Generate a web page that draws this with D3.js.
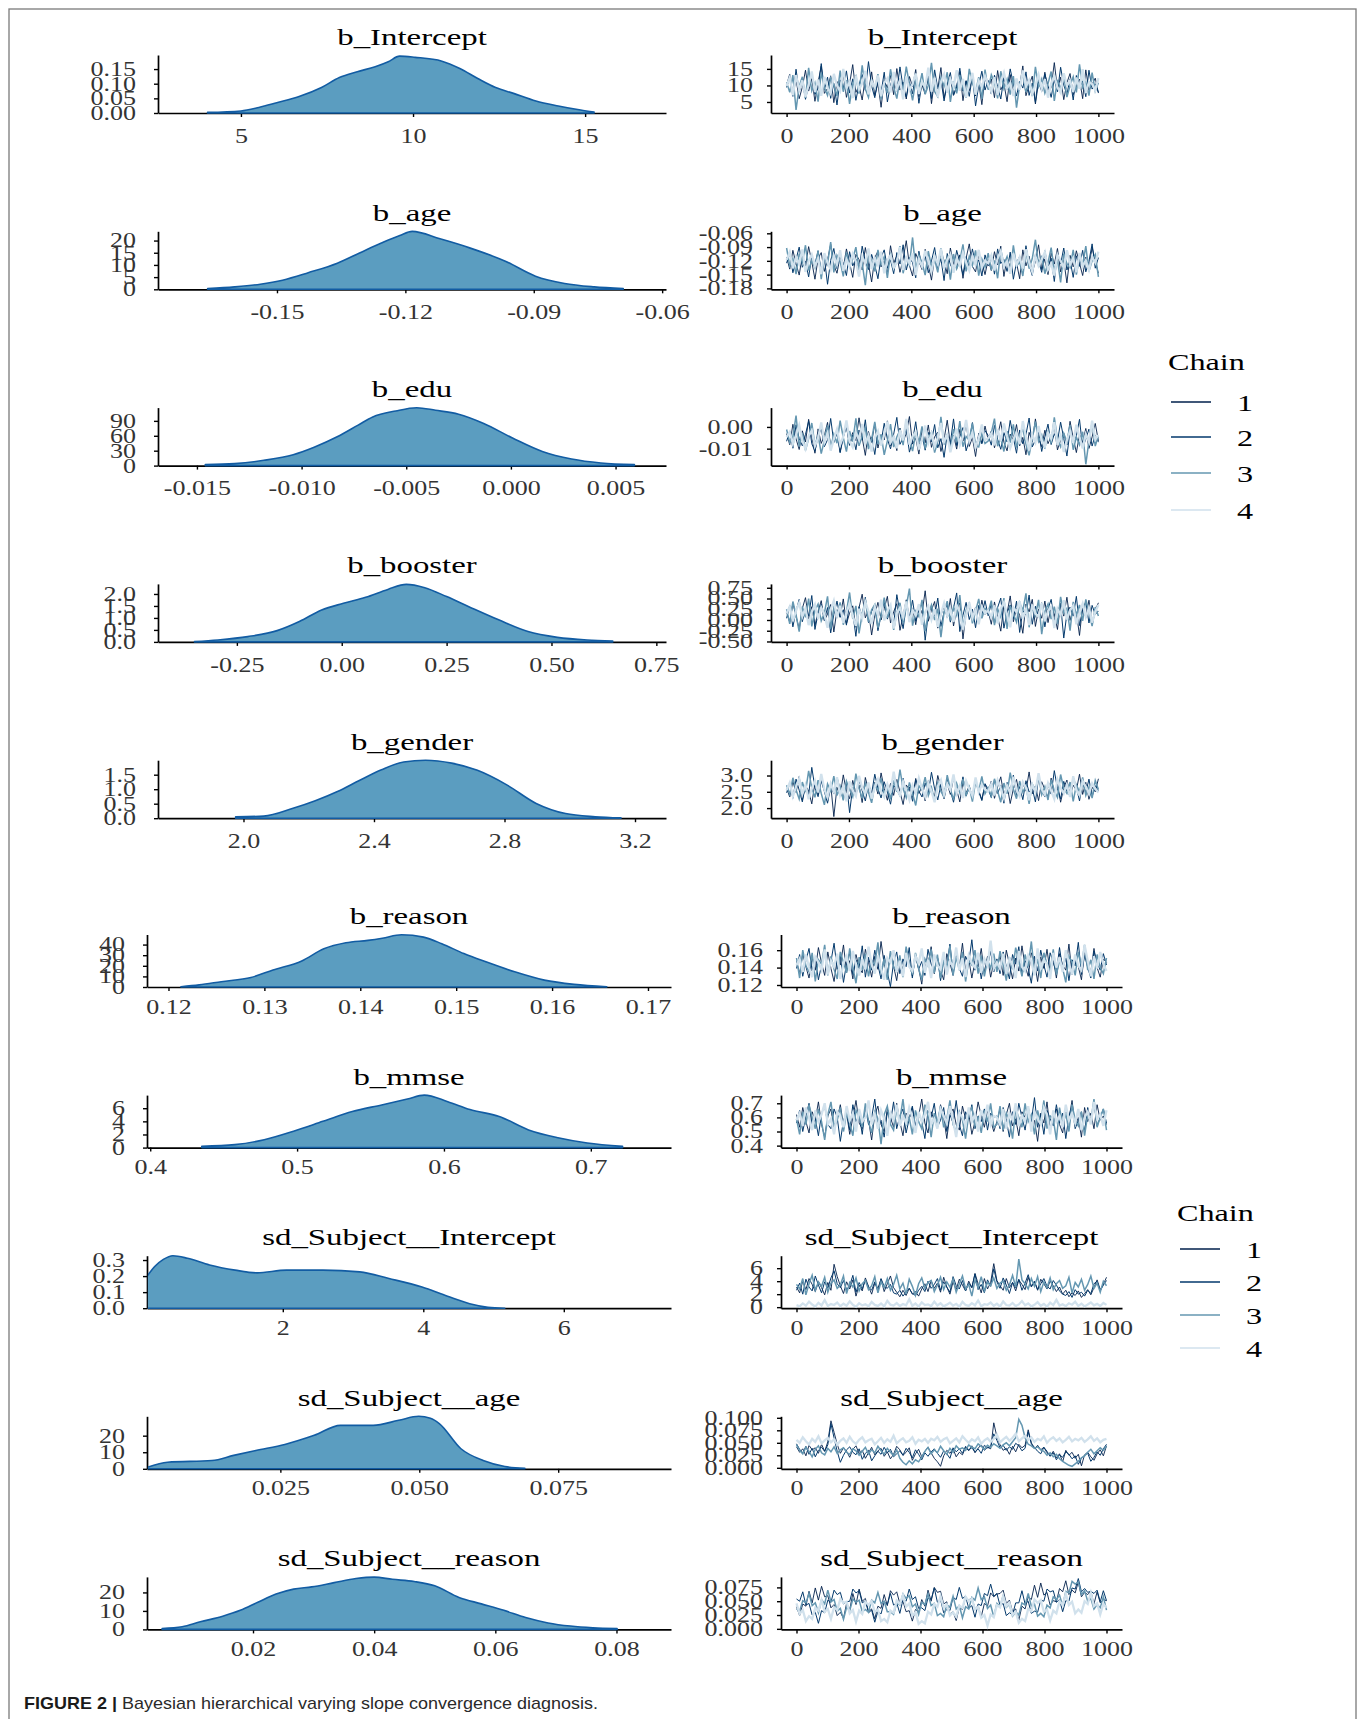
<!DOCTYPE html>
<html>
<head>
<meta charset="utf-8">
<script src="https://cdn.jsdelivr.net/npm/d3@7"></script>
<style>
html,body{margin:0;padding:0;background:#fff;}
svg{display:block;}
</style>
</head>
<body>
<svg id="fig" width="1363" height="1719"></svg>
<script>
// ---------- parameters ----------
const parameters = ["b_Intercept","b_age","b_edu","b_booster","b_gender",
  "b_reason","b_mmse","sd_Subject__Intercept","sd_Subject__age","sd_Subject__reason"];
const chains = ["1","2","3","4"];

// ---------- posterior densities: [value, density] ----------
const densIntercept = [[4.03,0.002],[5.0,0.007],[5.52,0.019],[6.04,0.035],[6.69,0.056],[7.34,0.087],[7.86,0.121],[8.38,0.141],[8.90,0.158],[9.28,0.175],[9.61,0.194],[10.06,0.19],[10.84,0.177],[11.36,0.152],[11.88,0.118],[12.40,0.087],[12.92,0.067],[13.57,0.041],[14.22,0.024],[14.87,0.010],[15.26,0.003]];
const densAge = [[-0.1662,0.3],[-0.1599,1],[-0.1539,2.1],[-0.1487,3.75],[-0.1427,6.8],[-0.1359,10.7],[-0.1307,14.9],[-0.1256,19],[-0.1213,22.1],[-0.1184,23.75],[-0.1119,20.7],[-0.1050,17],[-0.0965,11.4],[-0.0896,5.4],[-0.0828,2.4],[-0.0759,1],[-0.0691,0.3]];
const densEdu = [[-0.0146,2],[-0.0132,4],[-0.0118,10.6],[-0.0104,21.9],[-0.0094,37],[-0.0083,58],[-0.0073,81.5],[-0.0066,98],[-0.0055,110],[-0.0045,116.5],[-0.0036,111.3],[-0.0025,103.4],[-0.0013,84.8],[0.0001,55],[0.0015,28.5],[0.0029,13.3],[0.0043,5.3],[0.0059,2]];
const densBooster = [[-0.351,0.01],[-0.295,0.08],[-0.224,0.22],[-0.154,0.47],[-0.101,0.85],[-0.048,1.33],[0.004,1.61],[0.057,1.86],[0.110,2.19],[0.154,2.40],[0.198,2.26],[0.250,1.89],[0.303,1.47],[0.374,0.92],[0.444,0.43],[0.514,0.19],[0.585,0.08],[0.646,0.04]];
const densGender = [[1.976,0.05],[2.062,0.07],[2.152,0.34],[2.220,0.6],[2.288,0.92],[2.355,1.3],[2.423,1.67],[2.491,1.94],[2.558,2.0],[2.638,1.9],[2.717,1.65],[2.807,1.15],[2.897,0.51],[2.987,0.16],[3.078,0.05],[3.157,0.01]];
const densReason = [[0.1213,0.3],[0.1232,2],[0.1255,5],[0.1286,9],[0.1309,16],[0.1339,24.6],[0.1362,36],[0.1385,41.7],[0.1408,44],[0.1423,46],[0.1443,49.2],[0.1466,47],[0.1485,40.8],[0.1508,31.5],[0.1531,23.7],[0.1561,14.3],[0.1592,6.5],[0.1623,2.5],[0.1657,0.3]];
const densMmse = [[0.4351,0.2],[0.4576,0.45],[0.4776,1.2],[0.4976,2.5],[0.5176,4.0],[0.5376,5.5],[0.5576,6.5],[0.5751,7.4],[0.5866,8.0],[0.6026,7.0],[0.6177,5.8],[0.6376,4.75],[0.6576,2.7],[0.6776,1.5],[0.6976,0.7],[0.7216,0.2]];
const densSdIntercept = [[0.07,0.2],[0.173,0.258],[0.30,0.304],[0.435,0.327],[0.644,0.311],[0.957,0.269],[1.322,0.237],[1.635,0.22],[2.051,0.237],[2.573,0.237],[3.095,0.226],[3.511,0.185],[3.982,0.132],[4.345,0.074],[4.66,0.028],[4.92,0.006],[5.16,0.0]];
const densSdAge = [[0.0011,1.0],[0.0047,4.0],[0.0127,5.0],[0.0166,8.1],[0.0206,11.1],[0.0258,14.7],[0.0311,20.2],[0.0358,26.2],[0.0417,26.2],[0.0463,29.3],[0.0499,31.7],[0.0520,30.5],[0.0536,27.3],[0.0575,12.1],[0.0615,5.0],[0.0654,1.4],[0.0690,0.3]];
const densSdReason = [[0.0050,0.5],[0.0083,1.4],[0.0113,4.1],[0.0150,7.1],[0.0179,10.3],[0.0208,14.7],[0.0238,19.1],[0.0267,21.8],[0.0297,23.0],[0.0334,25.3],[0.0370,27.5],[0.0400,28.3],[0.0430,27.1],[0.0466,25.9],[0.0500,23.6],[0.0540,17.3],[0.0577,13.8],[0.0614,10.3],[0.0650,6.4],[0.0687,3.5],[0.0724,1.8],[0.0761,0.9],[0.0801,0.5]];

// ---------- MCMC draws, thinned, one list per chain ----------
const traceIntercept = [
 [10.2,13.4,7.1,11.8,6.0,9.5,14.6,8.3,12.1,5.2,10.9,15.8,7.6,9.1,12.9,4.8,11.2,8.8,13.7,6.4,10.5,16.3,7.9,9.9,5.6,12.4,8.1,14.1,6.9,10.7,3.4,11.5,9.3,13.0,7.2,15.1,8.6,11.0,5.9,12.7,9.6,14.8,6.6,10.1,7.4,13.5,4.5,11.9,8.9,15.4,6.2,10.4,12.3,7.0,9.7,14.2,5.4,11.4,8.4,13.2,6.8,10.8,4.2,12.6,
  9.0,12.0,6.3,14.5,8.7,10.6,5.1,13.3,7.8,11.7,9.9,15.9,6.9,10.2,12.8,4.4,11.1,8.2,14.0,7.5,9.4,16.9,8.9,12.5,5.7,10.8,13.6,7.2,9.6,11.9,6.0,14.7,8.5,10.3,12.2,7.7],
 [9.4,12.2,6.7,14.9,8.0,11.3,5.8,10.0,13.8,7.3,9.2,16.6,8.7,12.5,6.1,10.6,4.1,11.7,9.0,14.4,7.7,12.0,5.5,10.3,13.3,8.5,17.2,9.8,6.3,11.6,7.8,14.0,5.0,10.2,12.8,8.2,15.6,9.4,6.5,11.1,7.5,13.6,4.6,10.9,8.0,12.2,6.0,14.7,9.1,11.8,5.3,10.5,13.9,7.1,9.6,15.2,8.3,11.4,6.7,12.9,3.8,10.0,14.3,8.6,
  11.5,7.4,13.1,9.7,5.9,12.4,8.8,15.0,10.4,6.8,11.2,9.2,14.1,7.0,10.7,4.9,12.7,8.4,13.5,9.9,6.4,11.8,8.1,15.5,10.1,7.3,12.0,5.6,13.0,9.5,11.3,6.6,14.6,8.9,10.5,7.9],
 [11.0,7.9,13.1,2.6,9.7,12.6,6.2,15.3,8.4,10.8,5.1,13.9,9.3,7.0,12.3,10.1,6.8,14.5,8.1,11.6,4.4,10.4,12.7,7.5,16.1,9.0,6.4,11.9,8.8,13.4,5.7,10.6,7.7,14.9,9.5,6.0,12.1,8.6,15.7,10.3,5.5,11.3,9.2,13.7,7.3,10.0,16.8,8.2,6.6,12.4,9.8,14.0,5.0,11.2,7.6,13.1,9.4,6.3,15.0,10.7,8.0,12.5,5.9,14.8,
  8.7,13.2,10.9,6.1,14.3,9.1,11.9,7.2,12.8,3.3,10.2,13.7,8.0,11.4,6.8,15.6,9.6,12.0,7.7,10.6,14.2,5.3,11.7,8.9,13.0,6.5,10.0,12.6,7.9,16.4,9.3,11.0,6.9,13.9,8.3,10.8],
 [9.9,12.4,7.0,13.1,8.6,11.5,6.5,10.2,14.2,8.0,11.8,6.9,12.6,9.4,7.6,13.5,10.0,8.3,15.0,9.1,11.0,6.2,12.9,8.8,10.6,14.4,7.3,11.3,9.5,13.0,6.7,10.8,12.1,7.9,14.1,9.0,11.6,5.8,12.7,8.5,10.4,13.6,7.4,11.1,9.3,15.4,8.1,12.3,6.6,10.9,13.3,7.8,11.9,9.7,14.6,8.4,12.0,6.4,10.5,13.8,7.2,11.4,9.6,12.8,
  10.3,8.2,12.5,7.1,11.2,13.9,9.2,10.7,6.8,12.1,8.7,14.5,9.8,11.6,7.5,10.1,13.2,8.9,11.9,6.3,10.6,12.8,9.4,7.8,13.7,10.0,11.4,8.0,12.4,9.0,14.9,7.7,11.1,10.4,8.6,12.2]
];
const traceAge = [
 [-.112,-.138,-.097,-.126,-.151,-.108,-.131,-.089,-.122,-.160,-.115,-.102,-.143,-.118,-.084,-.129,-.147,-.110,-.135,-.094,-.124,-.156,-.106,-.117,-.140,-.091,-.127,-.166,-.113,-.099,-.133,-.120,-.149,-.087,-.125,-.109,-.145,-.116,-.076,-.130,-.153,-.104,-.121,-.139,-.095,-.128,-.162,-.111,-.134,-.101,-.119,-.148,-.092,-.126,-.137,-.107,-.158,-.114,-.083,-.132,-.144,-.105,-.123,-.150,
  -.117,-.141,-.100,-.129,-.088,-.154,-.113,-.135,-.106,-.124,-.159,-.096,-.131,-.110,-.146,-.121,-.085,-.139,-.116,-.150,-.103,-.127,-.093,-.144,-.119,-.168,-.108,-.133,-.098,-.125,-.152,-.112,-.137,-.090,-.122,-.147],
 [-.125,-.103,-.146,-.117,-.090,-.134,-.121,-.155,-.110,-.128,-.098,-.142,-.114,-.171,-.119,-.093,-.137,-.108,-.126,-.152,-.100,-.131,-.116,-.145,-.088,-.122,-.139,-.106,-.129,-.159,-.112,-.096,-.136,-.118,-.148,-.102,-.127,-.085,-.140,-.113,-.124,-.157,-.099,-.133,-.109,-.146,-.120,-.091,-.138,-.115,-.163,-.104,-.128,-.142,-.097,-.123,-.150,-.111,-.135,-.094,-.130,-.118,-.153,-.107,
  -.131,-.108,-.149,-.094,-.126,-.117,-.143,-.101,-.160,-.123,-.111,-.138,-.087,-.129,-.152,-.106,-.120,-.145,-.098,-.134,-.114,-.165,-.103,-.127,-.092,-.140,-.118,-.156,-.109,-.132,-.097,-.144,-.121,-.083,-.136,-.113],
 [-.092,-.131,-.115,-.149,-.104,-.123,-.086,-.141,-.118,-.135,-.098,-.160,-.112,-.127,-.079,-.145,-.108,-.121,-.154,-.101,-.133,-.116,-.090,-.138,-.125,-.173,-.106,-.119,-.143,-.096,-.128,-.111,-.157,-.102,-.136,-.122,-.088,-.147,-.114,-.129,-.069,-.140,-.107,-.124,-.151,-.099,-.132,-.117,-.145,-.093,-.126,-.113,-.161,-.105,-.137,-.120,-.084,-.143,-.110,-.130,-.097,-.152,-.116,-.134,
  -.103,-.140,-.119,-.158,-.095,-.128,-.111,-.146,-.086,-.132,-.122,-.153,-.100,-.137,-.115,-.074,-.130,-.109,-.148,-.124,-.091,-.141,-.117,-.167,-.104,-.126,-.135,-.096,-.150,-.113,-.129,-.088,-.143,-.120,-.106,-.155],
 [-.118,-.101,-.136,-.112,-.127,-.095,-.144,-.120,-.106,-.131,-.115,-.149,-.103,-.124,-.139,-.109,-.128,-.097,-.142,-.117,-.133,-.105,-.122,-.154,-.111,-.126,-.093,-.138,-.114,-.129,-.100,-.147,-.119,-.108,-.135,-.123,-.090,-.140,-.113,-.125,-.104,-.151,-.116,-.132,-.098,-.121,-.143,-.110,-.127,-.094,-.137,-.118,-.106,-.146,-.114,-.130,-.102,-.124,-.141,-.109,-.128,-.096,-.134,-.120,
  -.125,-.108,-.141,-.115,-.099,-.133,-.121,-.148,-.104,-.129,-.112,-.137,-.095,-.123,-.144,-.110,-.131,-.117,-.101,-.139,-.126,-.152,-.107,-.120,-.135,-.097,-.128,-.114,-.145,-.103,-.132,-.119,-.140,-.111,-.124,-.100]
];
const traceEdu = [
 [-.0031,-.0082,.0012,-.0055,-.0104,-.0018,-.0069,.0035,-.0047,-.0121,-.0009,-.0076,-.0039,.0021,-.0092,-.0058,-.0013,-.0115,-.0044,.0006,-.0085,-.0026,-.0063,.0042,-.0050,-.0131,-.0021,-.0071,.0015,-.0097,-.0036,-.0060,.0028,-.0088,-.0041,-.0109,-.0005,-.0067,-.0030,.0048,-.0079,-.0052,-.0125,-.0016,-.0073,.0009,-.0094,-.0045,-.0024,-.0113,-.0057,.0031,-.0081,-.0038,-.0102,-.0011,-.0065,.0019,-.0090,-.0049,-.0136,-.0028,-.0074,.0004,
  -.0058,-.0019,-.0096,-.0040,.0024,-.0071,-.0110,-.0033,-.0062,.0011,-.0087,-.0048,-.0128,-.0025,-.0068,.0037,-.0054,-.0091,-.0015,-.0077,-.0043,.0005,-.0106,-.0061,-.0029,-.0083,.0026,-.0051,-.0118,-.0035,-.0072,-.0007,-.0099,-.0046,.0016,-.0064],
 [-.0066,-.0020,-.0098,.0010,-.0053,-.0087,-.0034,.0026,-.0077,-.0112,-.0043,-.0008,-.0091,-.0059,.0039,-.0072,-.0029,-.0119,-.0048,.0001,-.0083,-.0037,-.0105,-.0014,-.0061,.0033,-.0095,-.0046,-.0127,-.0022,-.0070,.0017,-.0056,-.0101,-.0033,.0044,-.0080,-.0051,-.0012,-.0116,-.0064,.0024,-.0089,-.0040,-.0107,-.0025,-.0068,.0011,-.0096,-.0054,-.0140,-.0032,-.0075,.0037,-.0086,-.0045,-.0003,-.0110,-.0062,.0020,-.0093,-.0042,-.0078,-.0017,
  -.0039,-.0084,.0007,-.0057,-.0103,-.0026,-.0069,.0030,-.0049,-.0121,-.0014,-.0078,-.0035,.0041,-.0092,-.0060,-.0021,-.0113,-.0045,.0013,-.0081,-.0031,-.0067,.0022,-.0053,-.0134,-.0018,-.0074,-.0041,.0035,-.0097,-.0056,-.0010,-.0088,-.0037,-.0070],
 [-.0012,-.0071,-.0045,.0052,-.0090,-.0027,-.0108,-.0054,.0018,-.0083,-.0038,-.0123,-.0061,.0007,-.0097,-.0033,-.0075,.0029,-.0049,-.0114,-.0019,-.0068,.0040,-.0087,-.0042,-.0006,-.0102,-.0057,.0023,-.0079,-.0035,-.0129,-.0064,.0013,-.0093,-.0047,-.0015,-.0084,.0034,-.0059,-.0111,-.0028,-.0073,.0003,-.0099,-.0052,-.0024,-.0118,-.0066,.0046,-.0081,-.0039,-.0106,-.0010,-.0070,.0027,-.0091,-.0044,-.0060,.0016,-.0085,-.0092,-.0031,-.0076,
  -.0065,-.0027,.0038,-.0089,-.0050,-.0113,-.0020,-.0072,.0012,-.0095,-.0043,-.0008,-.0080,-.0131,-.0055,.0024,-.0067,-.0036,-.0101,-.0016,-.0076,.0044,-.0058,-.0092,-.0030,-.0069,.0009,-.0105,-.0047,-.0082,-.0022,-.0172,-.0063,.0020,-.0088,-.0041],
 [-.0047,-.0023,-.0079,-.0036,.0009,-.0063,-.0101,-.0041,-.0017,-.0088,-.0052,.0021,-.0070,-.0030,-.0109,-.0056,-.0011,-.0082,-.0045,.0030,-.0066,-.0093,-.0026,-.0059,.0014,-.0077,-.0040,-.0113,-.0050,-.0020,-.0086,-.0034,.0025,-.0072,-.0046,-.0098,-.0015,-.0062,.0037,-.0081,-.0043,-.0024,-.0104,-.0055,.0006,-.0074,-.0032,-.0090,-.0049,.0018,-.0068,-.0038,-.0117,-.0057,-.0008,-.0084,-.0044,.0032,-.0065,-.0027,-.0095,-.0053,.0011,-.0060,
  -.0052,-.0031,-.0085,-.0012,-.0066,.0016,-.0044,-.0097,-.0058,-.0025,-.0079,.0027,-.0048,-.0108,-.0036,-.0071,.0004,-.0062,-.0090,-.0028,-.0054,.0022,-.0083,-.0040,-.0115,-.0060,-.0019,-.0074,.0010,-.0046,-.0099,-.0033,-.0068,.0029,-.0057,-.0038]
];
const traceBooster = [
 [.18,-.05,.39,.09,-.21,.27,.52,.02,.31,-.13,.20,.45,-.02,.14,.36,-.28,.24,.07,.49,-.09,.16,.33,-.17,.29,.60,.05,.22,-.35,.12,.41,.00,.26,.55,-.07,.19,.38,-.24,.10,.47,.03,.28,-.11,.35,.15,.68,-.03,.23,.43,-.19,.11,.32,.06,.50,-.14,.25,.40,-.44,.17,.37,.01,.30,-.08,.46,.13,
  .21,-.10,.42,.08,-.26,.34,.16,.56,-.04,.28,.11,-.31,.37,.19,.48,-.15,.25,.04,.44,-.06,.31,.14,-.22,.39,.09,.53,-.01,.27,.17,-.36,.33,.06,.46,-.12,.23,.40],
 [.04,.34,-.16,.21,.48,-.04,.26,.10,.57,-.22,.15,.37,-.01,.29,-.30,.13,.44,.06,.24,-.12,.39,.18,-.38,.31,.08,.53,-.06,.20,.35,-.25,.12,.42,.02,.27,-.10,.59,.16,-.20,.33,.07,.46,-.03,.23,.38,-.47,.14,.30,.09,.51,-.15,.19,.36,-.05,.28,.63,-.27,.11,.41,.01,.25,-.18,.34,.12,.45,
  .10,.38,-.08,.29,.51,-.19,.17,.35,.03,.44,-.29,.22,.12,.58,-.10,.32,.07,.40,-.16,.26,.48,-.02,.19,.36,-.42,.15,.30,.09,.55,-.13,.24,.43,-.07,.34,.13,.21],
 [.25,-.09,.43,.12,-.27,.31,.06,.50,-.15,.22,.37,-.02,.16,.55,-.20,.28,.09,.41,-.11,.19,.64,.03,.33,-.31,.14,.46,-.04,.24,.36,-.18,.10,.52,.05,.29,-.23,.17,.40,-.07,.32,.73,-.13,.21,.08,.47,-.26,.15,.35,.00,.26,-.40,.18,.44,-.01,.30,.11,.58,-.16,.23,.38,-.08,.20,.49,.04,.27,
  .18,.45,-.12,.26,.07,.51,-.21,.33,.14,-.05,.40,.22,.62,-.17,.29,.10,.47,-.33,.20,.37,.02,.31,-.09,.54,.16,.27,-.25,.42,.12,.35,-.02,.48,.19,-.14,.30,.09],
 [.15,.31,-.03,.22,.40,.08,.27,-.12,.19,.36,.02,.29,.13,-.18,.24,.45,.06,.33,-.07,.17,.38,.10,-.14,.26,.04,.42,.20,-.09,.30,.12,.47,-.01,.21,.35,-.20,.16,.28,.07,.43,-.05,.23,.11,.37,-.11,.18,.32,.01,.25,-.16,.14,.39,.09,.27,-.04,.34,.19,-.22,.13,.41,.05,.24,-.10,.30,.16,
  .22,.06,.34,-.08,.27,.41,.12,-.17,.29,.18,.44,.03,.25,-.12,.36,.15,.08,.39,-.03,.21,.31,-.19,.26,.11,.46,.01,.23,.33,-.10,.17,.38,.07,.28,-.06,.19,.35]
];
const traceGender = [
 [2.61,2.34,2.82,2.48,2.97,2.25,2.69,2.53,2.13,2.78,2.41,2.89,2.58,2.20,2.73,1.74,2.64,2.37,3.02,2.51,2.29,2.85,2.46,2.70,2.17,2.94,2.55,2.32,2.79,2.43,3.08,2.60,2.24,2.76,2.39,2.88,2.50,2.11,2.71,2.57,2.33,2.91,2.45,2.66,2.22,2.84,2.52,2.36,3.00,2.63,2.28,2.75,2.42,2.93,2.56,2.19,2.80,2.47,2.68,2.31,2.87,2.54,2.26,2.72,
  2.49,2.83,2.30,2.65,2.96,2.40,2.71,2.14,2.59,2.88,2.36,2.77,2.52,3.11,2.44,2.68,2.23,2.81,2.57,2.33,2.92,2.47,2.74,2.18,2.62,2.86,2.38,2.70,2.55,3.04,2.42,2.79,2.27,2.64,2.50,2.90],
 [2.47,2.76,2.30,2.89,2.55,2.19,2.71,2.40,3.25,2.62,2.35,2.83,2.51,2.15,2.67,2.44,2.95,2.58,2.27,2.79,1.86,2.64,2.38,2.86,2.53,2.22,2.74,2.45,3.04,2.60,2.31,2.81,2.49,2.12,2.70,2.57,2.36,2.92,2.43,2.65,2.21,2.87,2.52,2.34,2.77,2.46,3.10,2.59,2.25,2.73,2.41,2.90,2.54,2.18,2.68,2.48,2.96,2.37,2.63,2.29,2.84,2.50,2.23,2.75,
  2.58,2.32,2.87,2.45,2.70,2.15,2.79,2.53,3.01,2.39,2.66,2.26,2.84,2.49,2.61,2.19,2.93,2.56,2.34,2.75,2.43,3.15,2.60,2.28,2.82,2.51,2.37,2.96,2.64,2.22,2.78,2.47,2.89,2.35,2.69,2.54],
 [2.70,2.42,2.93,2.56,2.28,2.80,2.49,3.14,2.62,2.33,2.86,2.45,2.10,2.74,2.52,2.98,2.39,2.67,2.24,2.83,2.57,2.35,3.06,2.61,2.30,2.77,2.48,2.16,2.72,2.54,2.92,2.41,2.66,2.27,2.85,2.50,3.18,2.59,2.32,2.79,2.44,2.08,2.69,2.55,2.95,2.38,2.64,2.23,2.82,2.51,2.34,3.01,2.58,2.26,2.76,2.47,2.89,2.40,2.65,2.20,2.81,2.53,2.97,2.44,
  2.63,2.37,2.90,2.52,2.18,2.77,2.44,3.09,2.58,2.29,2.83,2.49,2.68,2.13,2.74,2.56,2.99,2.41,2.66,2.25,2.87,2.53,2.33,3.03,2.60,2.45,2.80,2.21,2.71,2.50,2.94,2.39,2.65,2.31,2.85,2.57],
 [2.55,2.78,2.36,2.66,2.90,2.43,2.71,2.27,2.60,2.84,2.48,3.05,2.57,2.32,2.75,2.50,2.95,2.40,2.68,2.21,2.82,2.54,2.37,2.99,2.62,2.44,2.79,2.29,2.65,2.88,2.51,2.34,2.73,2.47,3.12,2.58,2.39,2.81,2.53,2.25,2.70,2.46,2.92,2.61,2.35,2.77,2.52,2.18,2.67,2.86,2.42,2.74,2.56,3.03,2.45,2.69,2.31,2.83,2.59,2.38,2.94,2.49,2.72,2.57,
  2.51,2.74,2.39,2.85,2.60,2.30,2.69,2.47,2.96,2.56,2.36,2.80,2.63,2.24,2.72,2.49,3.07,2.58,2.41,2.77,2.53,2.28,2.88,2.62,2.45,2.71,2.34,2.98,2.55,2.40,2.82,2.66,2.44,2.76,2.59,2.48]
];
const traceReason = [
 [.147,.133,.156,.141,.128,.152,.137,.163,.145,.131,.158,.139,.124,.150,.143,.166,.135,.148,.127,.155,.140,.134,.161,.146,.129,.153,.138,.170,.144,.132,.157,.142,.125,.151,.136,.160,.147,.130,.154,.139,.121,.149,.143,.164,.133,.152,.137,.126,.156,.145,.131,.159,.140,.168,.135,.150,.128,.147,.141,.162,.134,.153,.129,.146,
  .138,.154,.131,.160,.144,.127,.151,.136,.165,.142,.130,.157,.147,.124,.152,.139,.161,.134,.149,.128,.156,.143,.137,.167,.132,.153,.141,.126,.158,.145,.135,.162,.140,.129,.150,.146],
 [.139,.155,.130,.148,.162,.136,.151,.126,.143,.159,.134,.147,.168,.138,.153,.123,.145,.157,.132,.149,.140,.165,.129,.152,.137,.160,.143,.127,.154,.135,.118,.146,.158,.133,.150,.141,.163,.128,.155,.138,.147,.131,.161,.144,.136,.152,.125,.149,.142,.167,.134,.156,.139,.130,.153,.145,.172,.137,.151,.127,.148,.141,.159,.135,
  .150,.133,.158,.141,.127,.155,.144,.164,.131,.148,.139,.122,.153,.136,.160,.143,.129,.157,.146,.134,.163,.138,.151,.125,.149,.142,.169,.132,.154,.140,.128,.159,.145,.137,.156,.143],
 [.151,.128,.160,.142,.135,.157,.124,.149,.144,.166,.131,.153,.138,.127,.158,.146,.134,.162,.140,.122,.152,.137,.156,.130,.148,.143,.169,.133,.150,.126,.159,.141,.136,.154,.129,.164,.145,.132,.157,.139,.126,.150,.142,.161,.134,.155,.128,.147,.140,.165,.131,.152,.137,.158,.124,.148,.143,.160,.133,.154,.130,.149,.139,.156,
  .135,.159,.143,.125,.152,.138,.163,.147,.130,.155,.141,.170,.134,.150,.128,.157,.144,.136,.161,.132,.148,.139,.123,.153,.146,.131,.158,.142,.166,.137,.149,.127,.155,.140,.133,.151],
 [.143,.150,.135,.155,.140,.129,.152,.146,.137,.161,.132,.148,.141,.156,.127,.145,.153,.136,.159,.142,.131,.150,.138,.164,.144,.133,.154,.139,.126,.151,.146,.160,.135,.148,.130,.157,.141,.136,.153,.145,.162,.134,.149,.128,.155,.143,.138,.158,.132,.147,.141,.163,.137,.151,.129,.154,.145,.140,.157,.134,.150,.142,.171,.139,
  .146,.139,.156,.133,.150,.143,.128,.159,.141,.136,.154,.147,.131,.162,.138,.149,.144,.127,.157,.140,.152,.135,.160,.145,.132,.155,.142,.137,.166,.148,.130,.153,.139,.158,.144,.136]
];
const traceMmse = [
 [.62,.53,.67,.57,.49,.64,.58,.71,.55,.46,.61,.66,.51,.59,.69,.54,.63,.48,.60,.72,.56,.52,.65,.58,.44,.62,.68,.55,.50,.66,.60,.53,.70,.57,.47,.63,.59,.67,.52,.61,.73,.56,.49,.64,.58,.54,.69,.60,.45,.62,.66,.55,.51,.68,.59,.63,.48,.57,.71,.61,.53,.65,.58,.50,
  .57,.66,.50,.62,.70,.54,.59,.47,.64,.60,.68,.53,.58,.43,.63,.56,.71,.51,.61,.66,.55,.49,.65,.59,.72,.54,.60,.46,.67,.57,.63,.52,.69,.58,.61,.55],
 [.56,.65,.50,.61,.70,.54,.59,.47,.63,.68,.55,.52,.66,.60,.43,.58,.64,.51,.69,.57,.62,.48,.67,.55,.60,.73,.53,.58,.46,.64,.56,.71,.52,.61,.66,.49,.59,.68,.54,.63,.57,.45,.65,.60,.70,.53,.58,.67,.50,.62,.56,.72,.55,.47,.64,.59,.69,.52,.61,.57,.66,.51,.63,.60,
  .61,.52,.67,.58,.46,.64,.55,.70,.60,.51,.66,.57,.74,.53,.62,.48,.65,.59,.54,.69,.56,.63,.45,.61,.68,.52,.58,.64,.50,.67,.57,.71,.54,.60,.66,.56],
 [.59,.48,.64,.55,.69,.60,.52,.66,.57,.44,.62,.71,.54,.58,.67,.50,.63,.56,.47,.65,.61,.53,.70,.57,.49,.64,.59,.41,.62,.68,.55,.51,.66,.58,.73,.54,.60,.48,.65,.57,.52,.69,.61,.46,.63,.56,.68,.53,.59,.72,.55,.50,.64,.58,.45,.62,.67,.54,.60,.49,.65,.57,.70,.53,
  .55,.68,.51,.63,.58,.45,.66,.60,.53,.70,.57,.62,.48,.65,.56,.72,.52,.61,.59,.44,.67,.55,.63,.50,.69,.58,.54,.64,.47,.62,.57,.73,.53,.60,.66,.51],
 [.58,.63,.54,.67,.60,.51,.65,.57,.62,.70,.55,.59,.48,.64,.61,.53,.68,.58,.63,.50,.66,.57,.60,.72,.55,.62,.52,.65,.59,.47,.63,.58,.69,.54,.61,.56,.67,.60,.49,.64,.57,.62,.71,.55,.59,.52,.66,.61,.56,.68,.58,.46,.63,.60,.54,.67,.57,.62,.50,.65,.59,.69,.55,.61,
  .60,.55,.66,.52,.63,.58,.70,.54,.61,.57,.68,.50,.64,.59,.55,.67,.62,.48,.65,.57,.61,.53,.69,.58,.63,.56,.66,.51,.60,.64,.55,.71,.59,.62,.54,.65]
];
const traceSdIntercept = [
 [3.1,2.2,4.0,2.7,4.4,3.5,2.4,3.9,3.0,1.9,3.8,2.6,6.6,4.7,3.3,2.1,3.9,2.8,4.2,1.7,3.4,2.5,4.5,3.2,2.0,3.7,2.9,4.3,2.4,3.6,4.8,3.0,2.3,1.6,2.6,1.8,2.9,2.0,2.4,1.7,2.8,3.6,2.4,4.1,2.9,3.7,2.3,4.6,3.1,2.0,3.9,2.7,4.3,3.4,2.5,4.0,3.0,5.2,3.6,2.2,4.4,2.8,3.8,6.7,4.1,3.3,2.6,4.4,3.0,3.8,2.5,4.2,3.5,2.7,4.6,3.2,3.9,2.6,4.3,3.6,2.8,4.0,3.3,2.4,3.1,2.0,2.6,1.6,2.2,1.8,2.5,1.5,2.1,2.7,1.9,3.0,4.2,2.7,3.5,4.6],
 [2.6,3.7,2.0,4.3,3.1,2.5,4.8,3.4,2.2,3.9,2.9,4.5,5.6,3.6,3.0,4.1,2.7,3.3,4.9,2.3,3.8,2.8,4.2,3.1,2.6,3.9,2.4,4.4,3.2,2.9,3.5,2.2,2.0,2.6,1.7,2.3,2.9,2.1,1.8,2.6,3.2,2.4,4.0,2.9,3.5,4.4,2.6,3.9,3.1,2.3,4.7,3.3,2.8,4.1,2.5,3.7,3.0,5.1,2.7,3.5,2.2,4.2,3.2,5.9,3.9,2.9,4.5,3.4,2.1,3.8,3.0,4.3,2.6,3.7,5.0,3.1,4.0,2.7,3.6,4.4,3.2,2.8,4.1,3.4,2.5,2.0,1.8,2.4,1.5,2.7,2.0,2.3,1.7,2.6,2.1,3.6,4.0,2.5,3.4,4.1],
 [3.5,2.8,4.4,1.9,3.6,4.9,2.6,3.9,3.2,4.6,2.3,3.7,4.2,2.9,3.4,4.8,2.1,3.8,3.1,4.5,2.5,3.6,4.1,2.7,3.3,4.7,2.2,3.9,3.0,4.4,2.6,3.5,4.9,2.8,3.7,2.0,4.3,3.2,1.8,3.6,4.5,2.9,3.8,4.1,2.4,3.4,4.6,2.7,3.9,3.1,4.3,2.3,3.6,4.8,2.8,3.5,1.7,4.2,3.0,4.7,2.5,3.8,3.3,4.5,2.9,3.7,4.0,2.6,3.4,4.9,3.1,7.4,4.2,3.6,2.8,4.4,3.2,4.7,2.4,3.9,3.0,4.5,2.7,3.6,4.1,2.9,3.3,4.6,2.2,3.8,3.1,4.3,2.6,3.5,4.8,2.9,3.7,2.3,4.0,3.3],
 [.31,.12,.58,.24,.85,.40,.09,.66,.27,1.10,.18,.47,.33,.72,.15,.53,.22,.91,.36,.07,.61,.28,.44,.14,.79,.35,.20,.56,.11,.97,.38,.25,.63,.17,.49,.30,1.21,.21,.55,.10,.74,.32,.43,.16,.86,.26,.59,.13,.39,.68,.23,.51,.08,.81,.34,.19,.62,.29,1.04,.15,.46,.37,.70,.21,.52,.11,.88,.33,.24,.65,.18,.42,.95,.28,.57,.13,.36,.77,.22,.49,.09,.69,.31,1.13,.26,.45,.16,.60,.38,.83,.20,.54,.12,.41,.73,.27,.50,.17,.64,.35]
];
const traceSdAge = [
 [.042,.031,.038,.024,.045,.036,.040,.029,.047,.033,.052,.094,.071,.047,.029,.040,.033,.021,.037,.044,.028,.035,.019,.030,.041,.026,.034,.039,.023,.032,.018,.027,.043,.036,.025,.031,.040,.015,.028,.037,.022,.033,.041,.030,.019,.012,.003,.024,.035,.029,.038,.022,.031,.026,.041,.034,.044,.030,.039,.046,.035,.041,.038,.090,.062,.046,.035,.039,.027,.043,.032,.047,.040,.045,.076,.050,.038,.045,.036,.041,.030,.024,.033,.020,.028,.012,.035,.025,.031,.019,.027,.004,.026,.031,.022,.015,.028,.036,.024,.044],
 [.048,.037,.030,.043,.027,.039,.022,.035,.041,.033,.046,.088,.060,.033,.011,.025,.036,.042,.031,.026,.038,.017,.029,.035,.014,.024,.033,.027,.041,.030,.037,.022,.028,.034,.025,.039,.031,.020,.036,.027,.016,.030,.023,.032,.038,.029,.021,.034,.028,.019,.040,.032,.038,.029,.043,.036,.040,.032,.038,.029,.045,.040,.042,.068,.055,.040,.045,.035,.042,.037,.049,.044,.034,.039,.072,.048,.041,.033,.028,.041,.033,.023,.030,.016,.026,.021,.032,.027,.018,.024,.007,.019,.025,.029,.013,.021,.032,.025,.038,.047],
 [.046,.035,.028,.041,.033,.022,.037,.044,.030,.026,.039,.032,.042,.029,.036,.040,.031,.027,.038,.034,.025,.033,.041,.028,.036,.030,.043,.034,.027,.039,.031,.024,.036,.019,.011,.006,.014,.008,.016,.012,.022,.033,.041,.028,.036,.030,.043,.034,.027,.039,.031,.044,.037,.040,.035,.046,.041,.038,.048,.043,.037,.045,.041,.048,.044,.039,.046,.050,.044,.052,.060,.097,.085,.060,.047,.044,.039,.042,.036,.033,.025,.030,.022,.027,.018,.013,.009,.005,.003,.008,.013,.020,.024,.031,.037,.028,.034,.040,.035,.043],
 [.056,.050,.061,.053,.047,.058,.052,.063,.049,.055,.060,.051,.057,.046,.054,.059,.050,.062,.053,.048,.056,.061,.051,.055,.058,.047,.053,.060,.050,.057,.052,.064,.049,.055,.059,.051,.054,.061,.048,.056,.053,.058,.050,.058,.055,.062,.052,.057,.060,.049,.054,.059,.051,.063,.056,.050,.057,.053,.061,.048,.055,.059,.052,.058,.066,.051,.057,.062,.054,.060,.068,.053,.059,.064,.056,.061,.052,.058,.055,.063,.050,.057,.061,.054,.059,.051,.056,.062,.053,.058,.055,.060,.052,.057,.063,.054,.059,.051,.056,.058]
];
const traceSdReason = [
 [.040,.024,.045,.041,.068,.047,.074,.052,.077,.058,.060,.038,.044,.024,.030,.019,.046,.035,.064,.044,.072,.050,.055,.031,.036,.018,.041,.037,.062,.042,.069,.061,.067,.046,.050,.031,.033,.014,.035,.030,.053,.041,.070,.050,.075,.066,.068,.045,.049,.027,.031,.015,.039,.035,.058,.052,.057,.036,.042,.022,.046,.041,.065,.058,.063,.064,.070,.046,.052,.031,.036,.016,.041,.036,.058,.053,.079,.057,.083,.061,.066,.043,.051,.049,.073,.067,.087,.062,.070,.065,.085,.058,.066,.062,.068,.045,.067,.047,.053,.051],
 [.054,.050,.067,.043,.046,.025,.030,.010,.033,.029,.052,.048,.070,.062,.066,.045,.049,.050,.072,.065,.069,.047,.051,.029,.034,.012,.032,.027,.049,.044,.064,.043,.047,.028,.053,.050,.072,.053,.058,.037,.038,.033,.056,.053,.074,.048,.053,.029,.035,.033,.057,.053,.075,.055,.059,.037,.042,.021,.045,.042,.064,.060,.081,.059,.064,.042,.046,.024,.029,.026,.047,.047,.069,.045,.050,.028,.032,.030,.052,.050,.072,.067,.069,.048,.053,.031,.051,.050,.074,.072,.091,.067,.073,.066,.068,.064,.070,.049,.069,.051],
 [.036,.032,.051,.047,.064,.042,.047,.029,.053,.045,.070,.049,.053,.032,.037,.017,.039,.033,.054,.048,.052,.031,.035,.030,.052,.047,.066,.046,.050,.031,.031,.026,.047,.043,.063,.055,.060,.040,.045,.026,.048,.044,.063,.042,.046,.024,.028,.022,.044,.039,.059,.036,.042,.020,.040,.036,.057,.052,.074,.053,.058,.037,.043,.022,.046,.041,.060,.039,.044,.023,.030,.025,.047,.043,.064,.041,.045,.023,.028,.022,.043,.038,.058,.053,.061,.042,.068,.065,.086,.081,.085,.062,.069,.050,.055,.036,.044,.038,.058,.034],
 [.046,.027,.034,.014,.023,.018,.038,.033,.052,.031,.036,.018,.039,.034,.054,.047,.049,.028,.034,.013,.033,.027,.049,.043,.050,.030,.035,.014,.018,.012,.033,.029,.051,.045,.061,.040,.046,.024,.030,.009,.014,.010,.031,.026,.045,.040,.059,.038,.044,.024,.030,.022,.042,.038,.058,.050,.055,.035,.040,.020,.025,.006,.026,.021,.043,.039,.059,.041,.047,.025,.031,.011,.018,.014,.036,.032,.053,.047,.052,.031,.035,.015,.033,.028,.050,.043,.063,.043,.049,.028,.035,.029,.050,.045,.065,.041,.046,.026,.045,.038]
];

// ---------- axis ticks ----------
const densXTicks = [[5,10,15],[-0.15,-0.12,-0.09,-0.06],[-0.015,-0.010,-0.005,0,0.005],[-0.25,0,0.25,0.5,0.75],[2.0,2.4,2.8,3.2],
  [0.12,0.13,0.14,0.15,0.16,0.17],[0.4,0.5,0.6,0.7],[2,4,6],[0.025,0.05,0.075],[0.02,0.04,0.06,0.08]];
const densYTicks = [[0,0.05,0.10,0.15],[0,5,10,15,20],[0,30,60,90],[0,0.5,1.0,1.5,2.0],[0,0.5,1.0,1.5],
  [0,10,20,30,40],[0,2,4,6],[0,0.1,0.2,0.3],[0,10,20],[0,10,20]];
const traceYTicks = [[5,10,15],[-0.18,-0.15,-0.12,-0.09,-0.06],[-0.01,0],[-0.5,-0.25,0,0.25,0.5,0.75],[2.0,2.5,3.0],
  [0.12,0.14,0.16],[0.4,0.5,0.6,0.7],[0,2,4,6],[0,0.025,0.05,0.075,0.1],[0,0.025,0.05,0.075]];
const iterTicks = [0,200,400,600,800,1000];
const densXFormat = [".0f",".2f",".3f",".2f",".1f",".2f",".1f",".0f",".3f",".2f"];
const densYFormat = [".2f",".0f",".0f",".1f",".1f",".0f",".0f",".1f",".0f",".0f"];
const traceYFormat = [".0f",".2f",".2f",".2f",".1f",".2f",".1f",".0f",".3f",".3f"];

// ---------- scale domains ----------
const densXDomain = [[2.59,17.35],[-0.1778,-0.0591],[-0.01686,0.00741],[-0.438,0.773],[1.738,3.295],
  [0.11776,0.1724],[0.3978,0.7546],[0.067,7.526],[0.0010,0.0953],[0.0025,0.0890]];
const densYMax = [0.198,23.8,116.7,2.42,2.0,49.5,8.0,0.327,31.7,28.4];
const traceYDomain = [[1.67,19.2],[-0.182,-0.0556],[-0.0178,0.0089],[-0.51,0.84],[1.69,3.47],
  [0.1177,0.178],[0.386,0.758],[-0.16,7.92],[-0.002,0.103],[-0.001,0.094]];
const iterDomain = [-50,1050];

const densities = [densIntercept,densAge,densEdu,densBooster,densGender,densReason,densMmse,densSdIntercept,densSdAge,densSdReason];
const traces = [traceIntercept,traceAge,traceEdu,traceBooster,traceGender,traceReason,traceMmse,traceSdIntercept,traceSdAge,traceSdReason];

// ---------- styling / layout ----------
const SERIF = "'Liberation Serif','Times New Roman',Times,serif";
const chainColors = ["#011f4b","#03396c","#6497b1","#d1e1ec"];
const chainWidths = [0.9,1.0,1.5,2.3];
const densFill = "#5b9dc0", densLine = "#125ca3";
const TICK_FS = 20, TICK_K = 1.3, TITLE_FS = 22.5, TITLE_K = 1.46;

const groups = [
  {rows:[0,1,2,3,4], base0:113, step:176.3, height:58, titleOff:68.5, labelPad:11.5, densX:[158,666], traceX:[771,1114]},
  {rows:[5,6,7,8,9], base0:987, step:160.6, height:52.5, titleOff:63, labelPad:8.5, densX:[147,671], traceX:[781,1122]}
];
const legends = [
  {titleX:1168, titleY:370, lineX:[1171,1211], lineY:[402,437,473,510], labelX:1245},
  {titleX:1177, titleY:1221, lineX:[1180,1220], lineY:[1249,1282,1315,1348], labelX:1254}
];

const loc = d3.formatLocale({decimal:".", thousands:",", grouping:[3], currency:["",""], minus:"-"});
const svg = d3.select("#fig");

// figure frame
svg.append("rect").attr("x",9).attr("y",9).attr("width",1347).attr("height",1800)
  .attr("fill","none").attr("stroke","#7a7a7a").attr("stroke-width",1.3);

function styleAxis(g, left, pad) {
  g.attr("font-family", null).attr("font-size", null);
  g.select(".domain").attr("stroke","#000").attr("stroke-width",1.7);
  g.selectAll(".tick line").attr("stroke","#000").attr("stroke-width",1.4);
  const t = g.selectAll(".tick text")
    .attr("fill","#333")
    .style("font-family",SERIF).style("font-size",TICK_FS+"px")
    .attr("transform",`scale(${TICK_K},1)`);
  if (left) t.attr("x", -(4 + pad) / TICK_K);
}

function title(x, y, txt) {
  svg.append("text")
    .attr("transform",`translate(${x},${y}) scale(${TITLE_K},1)`)
    .attr("text-anchor","middle")
    .style("font-family",SERIF).style("font-size",TITLE_FS+"px")
    .attr("fill","#000").text(txt);
}

groups.forEach(gr => {
  gr.rows.forEach((p, r) => {
    const base = gr.base0 + gr.step * r;
    const top = base - gr.height;

    // ---- density panel ----
    const x = d3.scaleLinear().domain(densXDomain[p]).range(gr.densX);
    const y = d3.scaleLinear().domain([0, densYMax[p]]).range([base, top]);
    svg.append("g").attr("transform",`translate(0,${base})`)
      .call(d3.axisBottom(x).tickValues(densXTicks[p]).tickFormat(loc.format(densXFormat[p]))
        .tickSize(4).tickSizeOuter(0).tickPadding(gr.labelPad))
      .call(g => styleAxis(g, false, gr.labelPad));
    svg.append("g").attr("transform",`translate(${gr.densX[0]},0)`)
      .call(d3.axisLeft(y).tickValues(densYTicks[p]).tickFormat(loc.format(densYFormat[p]))
        .tickSize(4).tickSizeOuter(0).tickPadding(18))
      .call(g => styleAxis(g, true, 18));
    const clipId = "clip" + p;
    svg.append("clipPath").attr("id", clipId).append("rect")
      .attr("x", gr.densX[0] + 0.9).attr("y", top - 4)
      .attr("width", gr.densX[1] - gr.densX[0]).attr("height", base - top + 6);
    const area = d3.area().x(d => x(d[0])).y0(y(0)).y1(d => y(d[1])).curve(d3.curveMonotoneX);
    svg.append("path").datum(densities[p]).attr("d", area)
      .attr("clip-path", `url(#${clipId})`)
      .attr("fill", densFill).attr("stroke", densLine).attr("stroke-width", 1.6)
      .attr("stroke-linejoin","round");
    title((gr.densX[0] + gr.densX[1]) / 2, base - gr.titleOff, parameters[p]);

    // ---- trace panel ----
    const tx = d3.scaleLinear().domain(iterDomain).range(gr.traceX);
    const ty = d3.scaleLinear().domain(traceYDomain[p]).range([base, top]);
    svg.append("g").attr("transform",`translate(0,${base})`)
      .call(d3.axisBottom(tx).tickValues(iterTicks).tickFormat(loc.format("d"))
        .tickSize(4).tickSizeOuter(0).tickPadding(gr.labelPad))
      .call(g => styleAxis(g, false, gr.labelPad));
    svg.append("g").attr("transform",`translate(${gr.traceX[0]},0)`)
      .call(d3.axisLeft(ty).tickValues(traceYTicks[p]).tickFormat(loc.format(traceYFormat[p]))
        .tickSize(4).tickSizeOuter(0).tickPadding(14))
      .call(g => styleAxis(g, true, 14));
    traces[p].forEach((vals, c) => {
      const n = vals.length;
      const line = d3.line().x((v, j) => tx(j * 1000 / (n - 1))).y(v => ty(v));
      svg.append("path").attr("d", line(vals)).attr("fill","none")
        .attr("stroke", chainColors[c]).attr("stroke-width", chainWidths[c])
        .attr("stroke-linejoin","miter");
    });
    title((gr.traceX[0] + gr.traceX[1]) / 2, base - gr.titleOff, parameters[p]);
  });
});

// ---- chain legends ----
legends.forEach(lg => {
  svg.append("text")
    .attr("transform",`translate(${lg.titleX},${lg.titleY}) scale(1.4,1)`)
    .style("font-family",SERIF).style("font-size","23px").attr("fill","#000").text("Chain");
  chains.forEach((ch, i) => {
    svg.append("line").attr("x1",lg.lineX[0]).attr("x2",lg.lineX[1])
      .attr("y1",lg.lineY[i]).attr("y2",lg.lineY[i])
      .attr("stroke",chainColors[i]).attr("stroke-width",1.6);
    svg.append("text")
      .attr("transform",`translate(${lg.labelX},${lg.lineY[i] + 8.5}) scale(1.4,1)`)
      .attr("text-anchor","middle")
      .style("font-family",SERIF).style("font-size","23px").attr("fill","#000").text(ch);
  });
});

// ---- caption ----
const cap = svg.append("text").attr("x",0).attr("y",0)
  .style("font-family","'Liberation Sans',Arial,Helvetica,sans-serif").style("font-size","17px");
cap.append("tspan").attr("font-weight","bold").attr("fill","#1a1a1a").text("FIGURE 2 | ");
cap.append("tspan").attr("fill","#2a2a2a").text("Bayesian hierarchical varying slope convergence diagnosis.");
const capW = cap.node().getComputedTextLength();
cap.attr("transform",`translate(24,1709) scale(${574 / capW},1)`);
</script>
</body>
</html>
